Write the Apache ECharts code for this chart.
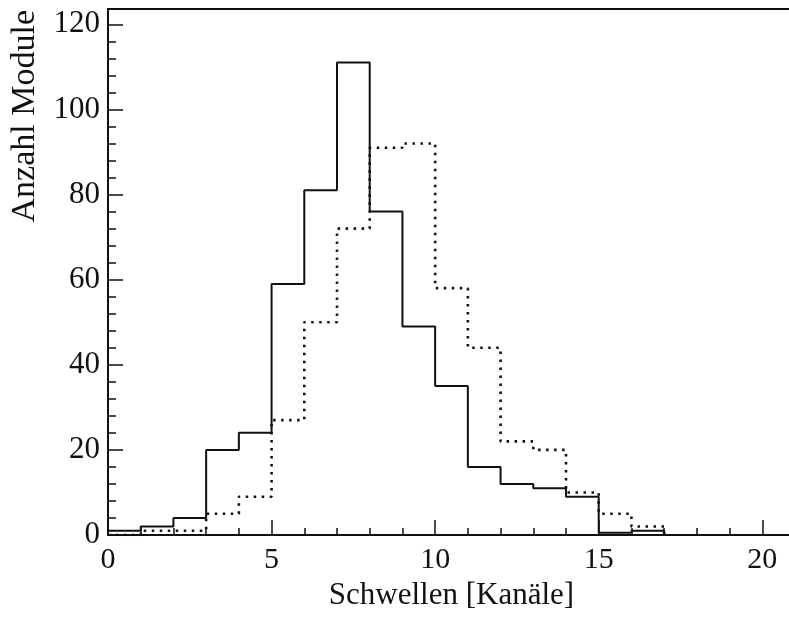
<!DOCTYPE html>
<html>
<head>
<meta charset="utf-8">
<script src="https://cdn.jsdelivr.net/npm/echarts@6/dist/echarts.min.js"></script>
<style>
  html, body { margin: 0; padding: 0; background: #fff; }
  #chart { width: 789px; height: 619px; }
</style>
</head>
<body>
<div id="chart"></div>
<script>
// Histogram bins: lower edge of each bin (bin width 1 channel)
const binLow = [0, 1, 2, 3, 4, 5, 6, 7, 8, 9, 10, 11, 12, 13, 14, 15, 16];
const lastEdge = 17;
const solidCounts = [1, 2, 4, 20, 24, 59, 81, 111, 76, 49, 35, 16, 12, 11, 9, 0.5, 1];
const dottedCounts = [0, 1, 1, 5, 9, 27, 50, 72, 91, 92, 58, 44, 22, 20, 10, 5, 2];

const xTicks = [0, 5, 10, 15, 20];
const yTicks = [0, 20, 40, 60, 80, 100, 120];

const font = "'Liberation Serif', 'Times New Roman', serif";
const ink = '#111';

// step points: (lowEdge, count), closed at the last edge
const stepPoints = counts => binLow.map((x, i) => [x, counts[i]]).concat([[lastEdge, 0]]);

const xMax = 21, yMax = 123.6;

const chart = echarts.init(document.getElementById('chart'), null, { renderer: 'canvas' });
chart.setOption({
    backgroundColor: '#fff',
    animation: false,
    // plot runs past the right edge of the picture (x max 21 is cut off)
    grid: {
        left: 108, width: 687, top: 9, bottom: 84, outerBoundsMode: 'none',
        show: true, borderColor: ink, borderWidth: 2, backgroundColor: 'transparent'
    },
    xAxis: [
        {
            type: 'value', min: 0, max: xMax, interval: 5,
            axisLine: { lineStyle: { color: ink, width: 2 } },
            axisTick: { inside: true, length: 15, lineStyle: { color: ink, width: 1.5 } },
            axisLabel: { color: ink, fontFamily: font, fontSize: 30, margin: 10, showMaxLabel: false,
                formatter: v => xTicks.includes(v) ? String(v) : '' },
            splitLine: { show: false },
            name: 'Schwellen [Kanäle]', nameLocation: 'middle', nameGap: 42,
            nameTextStyle: { color: ink, fontFamily: font, fontSize: 31 }
        },
        {
            type: 'value', min: 0, max: xMax, interval: 1, position: 'bottom',
            axisLine: { show: false },
            axisTick: { inside: true, length: 7, lineStyle: { color: ink, width: 1.5 } },
            axisLabel: { show: false },
            splitLine: { show: false }
        }
    ],
    yAxis: [
        {
            type: 'value', min: 0, max: yMax, interval: 20,
            axisLine: { show: true, lineStyle: { color: ink, width: 2 } },
            axisTick: { show: true, inside: true, length: 15, lineStyle: { color: ink, width: 1.5 } },
            axisLabel: { color: ink, fontFamily: font, fontSize: 31, margin: 8, showMaxLabel: false,
                formatter: v => yTicks.includes(v) ? String(v) : '' },
            splitLine: { show: false }
        },
        {
            type: 'value', min: 0, max: yMax, interval: 4, position: 'left',
            axisLine: { show: false },
            axisTick: { show: true, inside: true, length: 8, lineStyle: { color: ink, width: 1.5 } },
            axisLabel: { show: false },
            splitLine: { show: false }
        }
    ],
    graphic: [{
        type: 'text', x: 25, y: 10, rotation: Math.PI / 2,
        style: { text: 'Anzahl Module', font: '34px ' + font, fill: ink, align: 'right', verticalAlign: 'middle' }
    }],
    series: [
        {
            name: 'solid', type: 'line', step: 'end', symbol: 'none',
            data: stepPoints(solidCounts),
            lineStyle: { color: ink, width: 2 }
        },
        {
            name: 'dotted', type: 'line', step: 'end', symbol: 'none',
            data: stepPoints(dottedCounts),
            lineStyle: { color: ink, width: 2.6, type: [2.5, 5.5] }
        }
    ]
});
</script>
</body>
</html>
